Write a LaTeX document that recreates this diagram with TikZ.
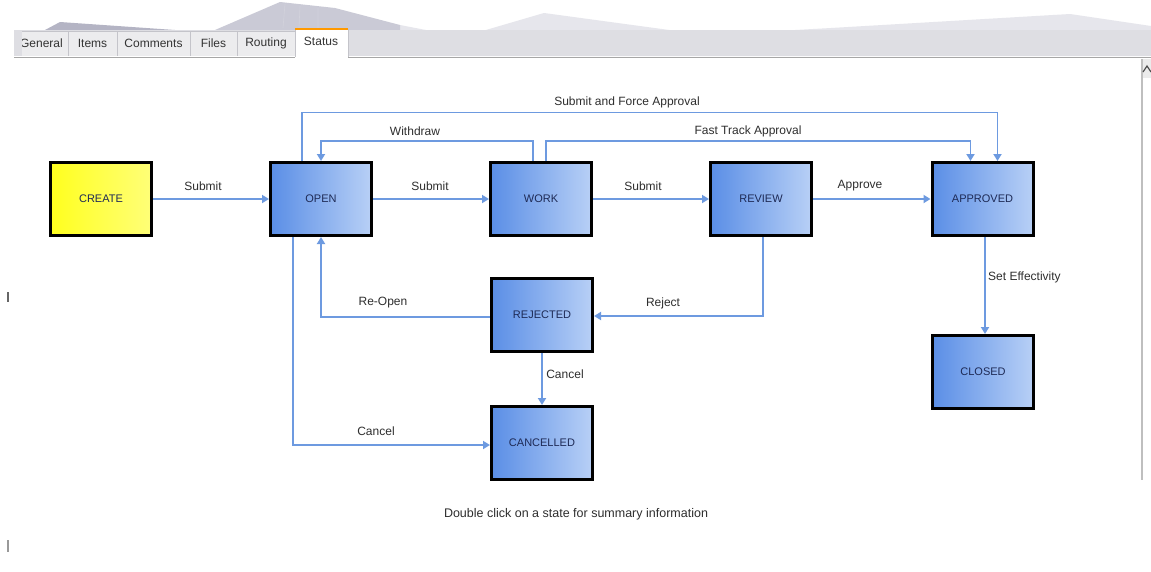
\documentclass[tikz,border=0pt]{standalone}
\usepackage{fontspec}
\setmainfont{Liberation Sans}
\usetikzlibrary{arrows.meta}
\definecolor{connC}{HTML}{6D9AE0}
\definecolor{boxL}{HTML}{5A8EE6}
\definecolor{boxR}{HTML}{B8D0F6}
\definecolor{boxT}{HTML}{1E2A55}
\definecolor{yelL}{HTML}{FFFF1E}
\definecolor{yelR}{HTML}{FFFF78}
\definecolor{lblC}{HTML}{2E2E2E}
\definecolor{tabF}{HTML}{ECECEE}
\definecolor{tabD}{HTML}{C4C4CA}
\definecolor{stripF}{HTML}{DEDEE3}
\definecolor{mtnF}{HTML}{E6E6EC}
\definecolor{mtnD}{HTML}{B4B4C4}
\begin{document}
\begin{tikzpicture}[x=1pt,y=-1pt,
  state/.style={draw=black, line width=3pt, minimum width=101pt, minimum height=73pt,
    inner sep=0pt, left color=boxL, right color=boxR, text=boxT,
    font=\fontsize{11}{13}\selectfont},
  yellowstate/.style={state, left color=yelL, right color=yelR},
  conn/.style={draw=connC, line width=1.9pt, -{Triangle[width=8pt,length=7pt]}},
  lbl/.style={font=\fontsize{12}{14}\selectfont, text=lblC, inner sep=1pt},
  tab/.style={draw=tabD, fill=tabF, line width=0.8pt},
  tabtext/.style={font=\fontsize{12}{13}\selectfont, text=black!80, inner sep=0pt}]
\useasboundingbox (0,0) rectangle (1151,571);
\fill[white] (0,0) rectangle (1151,571);

% window top decoration
\fill[mtnF] (400,56) -- (400,25) -- (462,37) -- (544,13) -- (706,35) -- (831,28) -- (1070,14) -- (1151,26) -- (1151,56) -- cycle;
\fill[mtnD!70] (215,30) -- (280,2) -- (335,8) -- (400,25) -- (400,30) -- cycle;
\fill[mtnD] (45,30) -- (60,22) -- (175,30) -- cycle;
\fill[stripF] (14,30) rectangle (1151,56);
\draw[mtnD!60, line width=0.6pt] (285,4) -- (283,28) (300,6) -- (299,28) (318,8) -- (318,28);

% tabs
\begin{scope}
  \clip (22,0) rectangle (1151,60);
  \draw[tab] (0,56) -- (0,31) -- (68,31) -- (68,56);
  \node[tabtext, anchor=east] (tgeneral) at (63,43) {General};
\end{scope}
\draw[tab] (68,56) -- (68,31) -- (117,31) -- (117,56);
\node[tabtext] (titems) at (92.5,43) {Items};
\draw[tab] (117,56) -- (117,31) -- (190,31) -- (190,56);
\node[tabtext] (tcomments) at (153.5,43) {Comments};
\draw[tab] (190,56) -- (190,31) -- (237,31) -- (237,56);
\node[tabtext] (tfiles) at (213.5,43) {Files};
\draw[tab] (237,56) -- (237,31) -- (295,31) -- (295,56);
\node[tabtext] (trouting) at (266,43) {Routing};
\fill[white] (295,29) rectangle (348,58);
\draw[tabD, line width=0.8pt] (295,57) -- (295,29) (348,29) -- (348,57);
\draw[orange!80!yellow, line width=2pt] (295,29) -- (348,29);
\node[tabtext] (tstatus) at (321,41) {Status};
\draw[black!35, line width=1pt] (14,57) -- (295,57) (348,57) -- (1151,57);

% scrollbar
\draw[black!25, line width=1.5pt] (1142,59) -- (1142,480);
\fill[black!8] (1143,59) rectangle (1151,78);
\draw[black!70, line width=1.2pt] (1143,72) -- (1147,66) -- (1151,72);

% left marks
\draw[black!60, line width=1.5pt] (8,292) -- (8,302);
\draw[black!40, line width=1.5pt] (8,540) -- (8,552);

% states
\node[yellowstate] (create) at (101,199) {CREATE};
\node[state] (open) at (321,199) {OPEN};
\node[state] (work) at (541,199) {WORK};
\node[state] (review) at (761,199) {REVIEW};
\node[state] (approved) at (982.5,199) {APPROVED};
\node[state] (rejected) at (542,315) {REJECTED};
\node[state] (cancelled) at (542,443) {CANCELLED};
\node[state] (closed) at (983,372) {CLOSED};

\coordinate (forceA) at (302,112.5);
\coordinate (forceB) at (997.5,112.5);
\coordinate (wdY) at (321,141);
\coordinate (ftY) at (970.5,141);

% connectors
\draw[conn] (create) -- (open);
\draw[conn] (open) -- (work);
\draw[conn] (work) -- (review);
\draw[conn] (review) -- (approved);
\draw[conn] ([xshift=-19pt]open.north) -- (forceA) -- (forceB) -- ([xshift=15pt]approved.north);
\draw[conn] ([xshift=-8pt]work.north) |- (wdY) -- (open.north);
\draw[conn] ([xshift=5pt]work.north) |- (ftY) -- ([xshift=-12pt]approved.north);
\draw[conn] ([xshift=2pt]review.south) |- ([yshift=-1pt]rejected.east);
\draw[conn] ([yshift=-2pt]rejected.west) -| (open.south);
\draw[conn] (rejected) -- (cancelled);
\draw[conn] ([xshift=-28pt]open.south) |- ([yshift=-2pt]cancelled.west);
\draw[conn] ([xshift=2.5pt]approved.south) -- ([xshift=2pt]closed.north);

% labels
\node[lbl] (l1) at (203,186) {Submit};
\node[lbl] (l2) at (430,186) {Submit};
\node[lbl] (l3) at (643,186) {Submit};
\node[lbl] (l4) at (860,186) {Approve};
\node[lbl] (l5) at (627,102) {Submit and Force Approval};
\node[lbl] (l6) at (415,131) {Withdraw};
\node[lbl] (l7) at (748,131) {Fast Track Approval};
\node[lbl] (l8) at (383,303) {Re-Open};
\node[lbl] (l9) at (663,303) {Reject};
\node[lbl] (l10) at (565,374) {Cancel};
\node[lbl] (l11) at (376,431) {Cancel};
\node[lbl, anchor=west] (l12) at (987,277) {Set Effectivity};
\node[lbl, font=\fontsize{12.5}{14}\selectfont] (foot) at (576,514) {Double click on a state for summary information};
\end{tikzpicture}
\end{document}
